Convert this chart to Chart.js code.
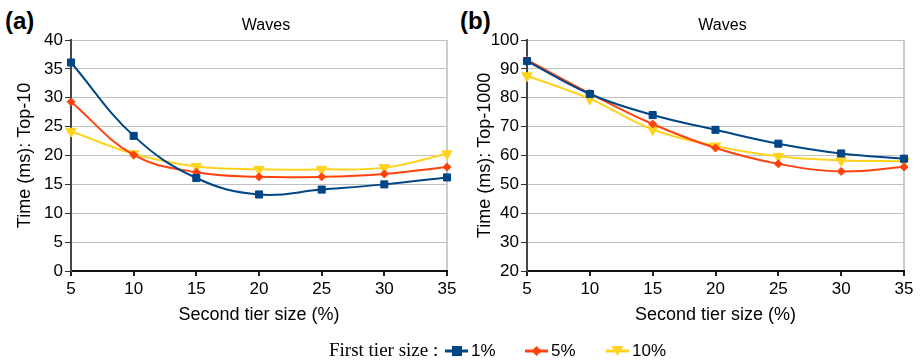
<!DOCTYPE html>
<html>
<head>
<meta charset="utf-8">
<script src="https://cdn.jsdelivr.net/npm/chart.js@4/dist/chart.umd.min.js"></script>
<style>
  body { margin: 0; background: #fff; width: 920px; height: 362px; position: relative; overflow: hidden; }
  canvas.plot { position: absolute; top: 0; }
  .tag { position: absolute; top: 7px; line-height: 1; font: bold 24px "Liberation Sans", Arial, sans-serif; color: #000; }
  #legend { position: absolute; top: 0; left: 0; width: 920px; height: 362px; color: #000; }
  #legend .cap { position: absolute; left: 329px; top: 339px; line-height: 1; font: 19px "Liberation Serif", "Times New Roman", serif; }
  #legend .item { position: absolute; top: 341px; line-height: 1; font: 17px "Liberation Sans", Arial, sans-serif; }
  #legend canvas { position: absolute; top: 344px; }
</style>
</head>
<body>
<div class="tag" style="left:5px">(a)</div>
<div class="tag" style="left:460px">(b)</div>
<canvas id="chartA" class="plot" width="460" height="335" style="left:0"></canvas>
<canvas id="chartB" class="plot" width="460" height="335" style="left:460px"></canvas>
<div id="legend">
  <span class="cap">First tier size :</span>
</div>
<script>
// x categories: second tier size (%)
var tierSizes = ['5', '10', '15', '20', '25', '30', '35'];
var seriesNames = ['1%', '5%', '10%'];
var seriesColors = ['#004586', '#ff420e', '#ffd320'];

// (a) Top-10 times (ms)
var top10_1 = [36.1, 23.4, 16.1, 13.25, 14.1, 15.0, 16.2];
var top10_5 = [29.3, 20.1, 17.1, 16.3, 16.3, 16.8, 18.0];
var top10_10 = [24.2, 20.3, 18.1, 17.6, 17.6, 17.9, 20.3];

// (b) Top-1000 times (ms)
var top1000_1 = [92.7, 81.3, 74.0, 68.9, 64.1, 60.7, 58.9];
var top1000_5 = [93.1, 81.5, 70.9, 62.6, 57.1, 54.5, 56.0];
var top1000_10 = [87.6, 79.6, 69.0, 63.3, 59.7, 58.3, 58.0];

var FONT = '"Liberation Sans", Arial, sans-serif';

// "Waves" heading, centred a little right of the plot area like the original
var wavesTitle = {
  id: 'wavesTitle',
  afterDraw: function (chart) {
    var ctx = chart.ctx, a = chart.chartArea;
    ctx.save();
    ctx.font = '16px ' + FONT;
    ctx.fillStyle = '#000';
    ctx.textAlign = 'center';
    ctx.textBaseline = 'alphabetic';
    ctx.fillText('Waves', (a.left + a.right) / 2 + 7, 30);
    ctx.restore();
  }
};

function makeDataset(i, values) {
  var styles = [
    { pointStyle: 'rect', pointRadius: 5, rotation: 0 },
    { pointStyle: 'rectRot', pointRadius: 4, rotation: 0 },
    { pointStyle: 'triangle', pointRadius: 6, rotation: 180 }
  ];
  return {
    label: seriesNames[i],
    data: values,
    borderColor: seriesColors[i],
    backgroundColor: seriesColors[i],
    borderWidth: 2,
    tension: 0.4,
    pointStyle: styles[i].pointStyle,
    pointRadius: styles[i].pointRadius,
    pointRotation: styles[i].rotation,
    pointBorderWidth: 1,
    pointBackgroundColor: seriesColors[i],
    pointBorderColor: seriesColors[i]
  };
}

function makeChart(id, sets, yMin, yMax, yStep, yTitle, axisWidth, padRight) {
  return new Chart(document.getElementById(id), {
    type: 'line',
    data: {
      labels: tierSizes,
      datasets: sets.map(function (v, i) { return makeDataset(i, v); })
    },
    plugins: [wavesTitle],
    options: {
      responsive: false,
      animation: false,
      layout: { padding: { left: 0, right: padRight, top: 40, bottom: 0 } },
      plugins: {
        legend: { display: false },
        tooltip: { enabled: false },
        title: { display: false }
      },
      scales: {
        x: {
          offset: false,
          grid: {
            offset: false,
            color: function (c) { return c.index === tierSizes.length - 1 ? '#cccccc' : 'rgba(0,0,0,0)'; },
            lineWidth: 2,
            tickColor: '#222',
            tickLength: 5
          },
          border: { display: true, color: '#111', width: 2 },
          ticks: { color: '#000', font: { family: FONT, size: 17 }, padding: 3, maxRotation: 0 },
          title: {
            display: true,
            text: 'Second tier size (%)',
            color: '#000',
            font: { family: FONT, size: 18 },
            padding: { top: 0, bottom: 9 }
          },
          afterFit: function (s) { s.height = 64; }
        },
        y: {
          min: yMin,
          max: yMax,
          ticks: { stepSize: yStep, color: '#000', font: { family: FONT, size: 17 }, padding: 2 },
          grid: { color: '#c0c0c0', lineWidth: 1, tickColor: '#333', tickLength: 6 },
          border: { display: true, color: '#444', width: 2 },
          title: {
            display: true,
            text: yTitle,
            color: '#000',
            font: { family: FONT, size: 18 },
            padding: { top: 14, bottom: 0 }
          },
          afterFit: function (s) { s.width = axisWidth; }
        }
      }
    }
  });
}

makeChart('chartA', [top10_1, top10_5, top10_10], 0, 40, 5, 'Time (ms): Top-10', 71, 13);
makeChart('chartB', [top1000_1, top1000_5, top1000_10], 20, 100, 10, 'Time (ms): Top-1000', 67, 16);

// legend row (spans both charts)
var legendPos = [445, 525, 606];
var legend = document.getElementById('legend');
seriesNames.forEach(function (name, i) {
  var cv = document.createElement('canvas');
  cv.width = 23; cv.height = 14;
  cv.style.left = legendPos[i] + 'px';
  legend.appendChild(cv);
  var ctx = cv.getContext('2d');
  ctx.strokeStyle = seriesColors[i];
  ctx.fillStyle = seriesColors[i];
  ctx.lineWidth = 3;
  ctx.beginPath(); ctx.moveTo(0, 7); ctx.lineTo(23, 7); ctx.stroke();
  ctx.beginPath();
  if (i === 0) {
    ctx.rect(7, 2, 10, 10);
  } else if (i === 1) {
    ctx.moveTo(11.5, 2); ctx.lineTo(16.5, 7); ctx.lineTo(11.5, 12); ctx.lineTo(6.5, 7); ctx.closePath();
  } else {
    ctx.moveTo(5.5, 2); ctx.lineTo(17.5, 2); ctx.lineTo(11.5, 12); ctx.closePath();
  }
  ctx.fill();
  var t = document.createElement('span');
  t.className = 'item';
  t.textContent = name;
  t.style.left = (legendPos[i] + 26) + 'px';
  legend.appendChild(t);
});
</script>
</body>
</html>
